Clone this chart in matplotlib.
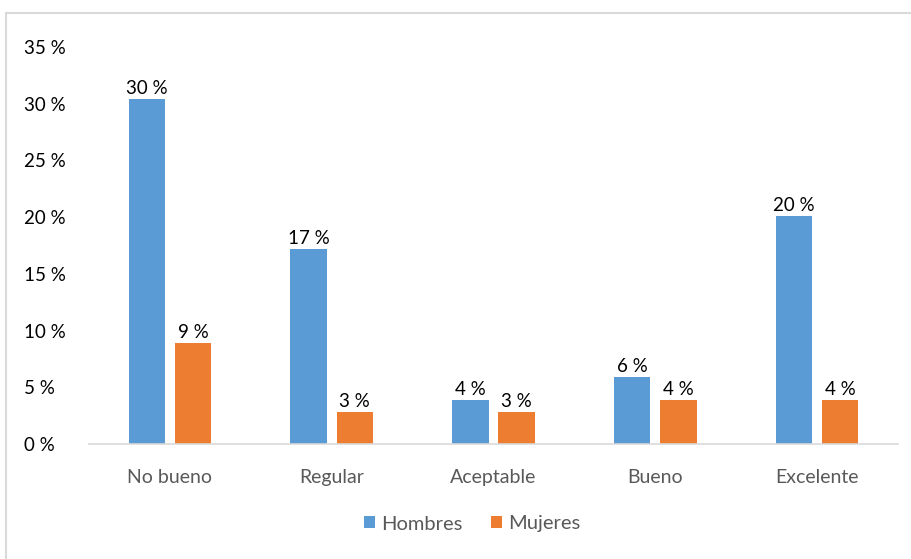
import matplotlib
matplotlib.use("Agg")
import matplotlib.pyplot as plt
import matplotlib.transforms as mtransforms
from matplotlib.patches import Rectangle
import numpy as np

# data
categories = ["No bueno", "Regular", "Aceptable", "Bueno", "Excelente"]
hombres = [30.4, 17.2, 3.9, 5.9, 20.1]
mujeres = [8.9, 2.8, 2.8, 3.9, 3.9]
hombres_labels = ["30 %", "17 %", "4 %", "6 %", "20 %"]
mujeres_labels = ["9 %", "3 %", "3 %", "4 %", "4 %"]
yticks = [0, 5, 10, 15, 20, 25, 30, 35]

BLUE = "#5B9BD5"
ORANGE = "#ED7D31"
GRAY_TEXT = "#595959"
LINE = "#D9D9D9"

plt.rcParams["font.family"] = ["Lato", "DejaVu Sans"]

fig = plt.figure(figsize=(9.12, 5.59), dpi=100)
fig.patch.set_facecolor("white")

# outer chart border
fig.patches.append(Rectangle((6 / 912, -0.05), 1.2, 1 - 13 / 559 + 0.05,
                             transform=fig.transFigure, fill=False,
                             edgecolor=LINE, linewidth=1.5))

ax = fig.add_axes([89 / 912, 1 - 444 / 559, 809 / 912, 397 / 559])

x = np.arange(len(categories))
w = 0.225
off = 0.143
b1 = ax.bar(x - off, hombres, w, color=BLUE, label="Hombres")
b2 = ax.bar(x + off, mujeres, w, color=ORANGE, label="Mujeres")

for bars, labels in ((b1, hombres_labels), (b2, mujeres_labels)):
    for bar, lab in zip(bars, labels):
        ax.annotate(lab, (bar.get_x() + bar.get_width() / 2, bar.get_height()),
                    xytext=(0, 1.5), textcoords="offset points",
                    ha="center", va="bottom", fontsize=13.5, color="black")

ax.set_xlim(-0.5, len(categories) - 0.5)
ax.set_ylim(0, 35)
ax.set_yticks(yticks)
ax.set_yticklabels([f"{t} %" for t in yticks], fontsize=13.5, color="black")
shift = mtransforms.ScaledTranslation(0, 4 / 72, fig.dpi_scale_trans)
for lab in ax.get_yticklabels():
    lab.set_horizontalalignment("left")
    lab.set_verticalalignment("center_baseline")
    lab.set_transform(lab.get_transform() + shift)
ax.tick_params(axis="y", length=0, pad=47)
ax.set_xticks(x)
ax.set_xticklabels(categories, fontsize=14, color=GRAY_TEXT)
ax.tick_params(axis="x", length=0, pad=18)

for s in ("top", "right", "left"):
    ax.spines[s].set_visible(False)
ax.spines["bottom"].set_color(LINE)
ax.spines["bottom"].set_linewidth(1.2)

leg = fig.legend(handles=[b1, b2], loc="center", bbox_to_anchor=(472 / 912, 1 - 524 / 559),
                 ncol=2, frameon=False, fontsize=14.5, handlelength=0.55, handleheight=0.55,
                 handletextpad=0.3, columnspacing=1.4)
for t in leg.get_texts():
    t.set_color(GRAY_TEXT)

fig.savefig("out.png", dpi=100)
